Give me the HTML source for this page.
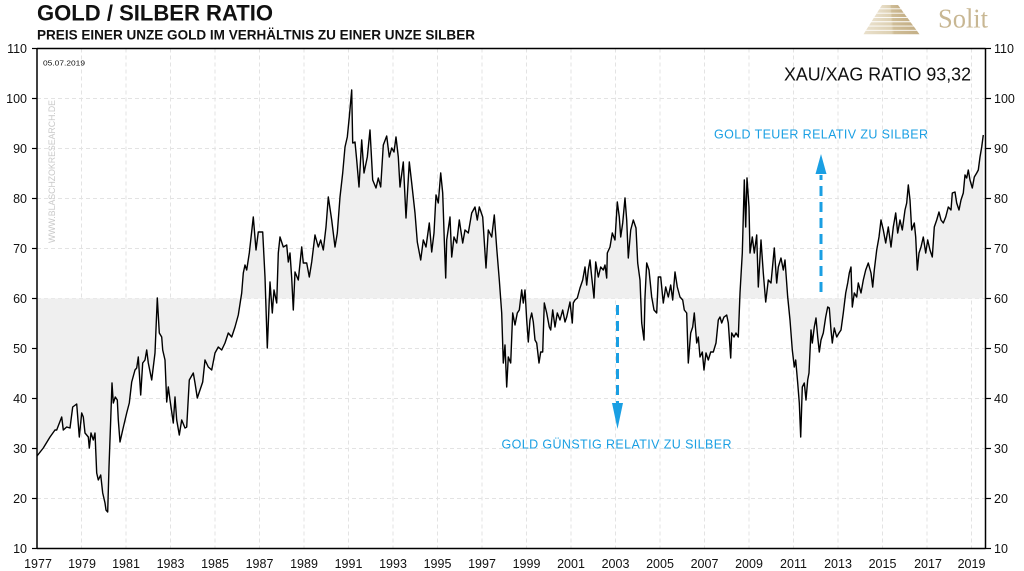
<!DOCTYPE html>
<html>
<head>
<meta charset="utf-8">
<style>
html,body{margin:0;padding:0;background:#fff;}
svg{display:block;}
text{font-family:"Liberation Sans",sans-serif;}
</style>
</head>
<body>
<svg width="1024" height="571" viewBox="0 0 1024 571" xmlns="http://www.w3.org/2000/svg">
<defs>
<linearGradient id="pg" x1="0" y1="0" x2="1" y2="0">
<stop offset="0" stop-color="#e9e0cc"/>
<stop offset="0.5" stop-color="#ddd0b2"/>
<stop offset="0.55" stop-color="#cfbd97"/>
<stop offset="1" stop-color="#c4af86"/>
</linearGradient>
</defs>
<rect x="0" y="0" width="1024" height="571" fill="#fff"/>

<!-- Title -->
<text x="37" y="20.5" font-size="22" font-weight="bold" fill="#111" textLength="236" lengthAdjust="spacingAndGlyphs">GOLD / SILBER RATIO</text>
<text x="37" y="39.5" font-size="14" font-weight="bold" fill="#111" textLength="438" lengthAdjust="spacingAndGlyphs">PREIS EINER UNZE GOLD IM VERHÄLTNIS ZU EINER UNZE SILBER</text>

<!-- Logo -->
<g fill="url(#pg)">
<polygon points="882,5 898,5 900.5,8.4 879.8,8.4"/>
<polygon points="879.3,9.3 901.2,9.3 903.6,12.7 877.1,12.7"/>
<polygon points="876.6,13.6 904.3,13.6 906.8,17 874.4,17"/>
<polygon points="873.8,17.9 907.5,17.9 910,21.3 871.7,21.3"/>
<polygon points="871.1,22.2 910.6,22.2 913.1,25.6 869,25.6"/>
<polygon points="868.4,26.5 913.8,26.5 916.3,29.9 866.2,29.9"/>
<polygon points="865.7,30.8 916.9,30.8 919.5,34.2 863.5,34.2"/>
</g>
<text x="938" y="27.7" font-size="27" fill="#c8b793" textLength="50" lengthAdjust="spacingAndGlyphs" style="font-family:'Liberation Serif',serif">Solit</text>

<!-- Grid -->
<g stroke="#e3e3e3" stroke-width="1" stroke-dasharray="4,3">
<line x1="37" y1="98.5" x2="985.5" y2="98.5"/>
<line x1="37" y1="148.5" x2="985.5" y2="148.5"/>
<line x1="37" y1="198.5" x2="985.5" y2="198.5"/>
<line x1="37" y1="248.5" x2="985.5" y2="248.5"/>
<line x1="37" y1="298.5" x2="985.5" y2="298.5"/>
<line x1="37" y1="348.5" x2="985.5" y2="348.5"/>
<line x1="37" y1="398.5" x2="985.5" y2="398.5"/>
<line x1="37" y1="448.5" x2="985.5" y2="448.5"/>
<line x1="37" y1="498.5" x2="985.5" y2="498.5"/>
<line x1="81.5" y1="48.5" x2="81.5" y2="548.5"/>
<line x1="126" y1="48.5" x2="126" y2="548.5"/>
<line x1="170.5" y1="48.5" x2="170.5" y2="548.5"/>
<line x1="215" y1="48.5" x2="215" y2="548.5"/>
<line x1="259.5" y1="48.5" x2="259.5" y2="548.5"/>
<line x1="304" y1="48.5" x2="304" y2="548.5"/>
<line x1="348.5" y1="48.5" x2="348.5" y2="548.5"/>
<line x1="393" y1="48.5" x2="393" y2="548.5"/>
<line x1="437.5" y1="48.5" x2="437.5" y2="548.5"/>
<line x1="482" y1="48.5" x2="482" y2="548.5"/>
<line x1="526.5" y1="48.5" x2="526.5" y2="548.5"/>
<line x1="571" y1="48.5" x2="571" y2="548.5"/>
<line x1="615.5" y1="48.5" x2="615.5" y2="548.5"/>
<line x1="660" y1="48.5" x2="660" y2="548.5"/>
<line x1="704.5" y1="48.5" x2="704.5" y2="548.5"/>
<line x1="749" y1="48.5" x2="749" y2="548.5"/>
<line x1="793.5" y1="48.5" x2="793.5" y2="548.5"/>
<line x1="838" y1="48.5" x2="838" y2="548.5"/>
<line x1="882.5" y1="48.5" x2="882.5" y2="548.5"/>
<line x1="927" y1="48.5" x2="927" y2="548.5"/>
<line x1="971.5" y1="48.5" x2="971.5" y2="548.5"/>
</g>

<!-- Watermark & date -->
<text transform="translate(55,243) rotate(-90)" font-size="9.5" fill="#c9c9c9" textLength="143" lengthAdjust="spacingAndGlyphs">WWW.BLASCHZOKRESEARCH.DE</text>
<text x="43" y="65.7" font-size="7.5" fill="#111" textLength="42" lengthAdjust="spacingAndGlyphs">05.07.2019</text>

<!-- Data -->
<g id="series">
<path fill="#efefef" stroke="none" d="M37,456 L43.3,448 50,437 55,430 56.7,430 61.7,417 63.3,430 66.7,427 70,428 72.7,407 76.7,404 79.3,437 81.7,413 83.3,417 85,433 88.3,437 89.3,448 91,433 93.3,440 95,433 96.7,473 98.3,480 100.7,475 102.7,493 105,503 106,510 107.7,512 109,467 110.7,420 112,383 113.3,403 115.3,397 117.3,400 118.3,420 120,442 122.7,430 126.7,413 129.3,403 131.7,382 135,370 136.7,368 138.3,357 140.7,395 142.7,363 145,360 146.7,350 148.3,363 151.7,380 155,353 157.3,298 159.3,333 161.7,337 162.7,350 165,360 166.7,402 168.3,387 170,400 173.3,423 175,397 176.7,420 179.3,435 181.7,420 185,428 186.7,427 189.3,380 193.3,373 195,383 197.3,398 200,390 202.7,382 205,360 208.3,367 211.7,370 215,353 218.3,347 221.7,350 225,343 228.3,333 231.7,337 235,327 238.3,315 241.7,293 243.3,273 245,265 246.7,270 249.3,253 253.3,217 256,250 258.3,232 262.7,232 265,277 267.3,348 270,282 272.3,313 274,290 276.7,303 278.3,253 280,237 283.3,247 286.7,245 288.3,262 290,253 291.7,278 293.3,310 295,272 298.3,280 301.7,247 303.3,263 306.7,263 309.3,277 311.7,262 315,235 318.3,247 320.7,240 323.3,250 326,227 328.3,197 331.7,220 335,247 337.3,233 340,197 342.7,173 345,147 347.3,137 349.3,117 351.7,90 352.7,143 355,142 356.7,160 359,187 361.7,140 364,173 367.3,157 370,130 372.7,180 376,188 378.3,178 380.7,187 383.3,145 386.7,136 389.3,157 391.7,148 394,152 396,137 398.3,157 400,187 403.3,162 406,218 409.3,162 411.7,183 415,213 417.3,242 420.7,260 423.3,240 426,247 429.3,223 431.7,252 434,233 436,195 438.3,203 440.7,173 442.7,193 444.3,240 445.7,278 446.7,240 450,217 451.7,257 454,237 456.7,243 459.3,220 462.7,243 465,230 468.3,233 471.7,213 475,207 477.3,220 479.3,207 482.7,217 486,268 488.3,230 491.7,237 494.3,215 496.7,248 499.3,280 501.7,313 503.3,363 505,345 506.7,387 508.3,357 510.7,363 512.7,313 515,325 517.3,313 519.3,310 521.7,290 523.3,303 525,290 526.7,320 528.3,342 530,320 531.7,313 533.3,322 535,340 536.7,343 539,363 540.7,352 542.7,352 544.3,303 546.7,313 549.3,327 550.7,330 552.7,310 555,327 557.3,313 560,320 562.7,310 565,322 566.7,317 570,302 572.3,323 573.3,303 575,300 577.3,298 580,288 582.7,280 585,267 586.7,285 588.3,270 590,260 591.7,277 594,298 595.7,262 598.3,277 600.7,267 603.3,270 605,265 606.7,278 607.3,253 610,247 612.3,233 615,240 617.3,202 619.3,217 620.7,237 622.7,223 625,198 626.7,220 628.3,258 630.7,230 633.3,220 636,228 637.7,263 640,280 641.7,323 644,340 645,297 646.7,263 649,270 651.7,297 654,310 656.7,313 658.3,277 660.7,277 663.3,303 665.7,287 668.3,297 670.7,285 672.7,300 675,272 677.3,287 680,297 682.7,300 684.3,310 686.7,313 688.3,363 690.7,333 692.7,327 694.3,313 696.7,343 698.3,337 700,357 702.3,352 704,370 706,353 708.3,360 710.7,352 713.3,352 716,343 718.3,320 720,317 721.7,323 724,317 726.7,315 728.3,323 730.7,358 731.7,333 734,337 736,333 738.3,337 740,293 742.3,253 744.3,180 745.7,227 747,178 749,207 750,253 752.3,237 754.3,253 756.7,235 758.3,287 761,240 763.3,273 765.7,302 768.3,280 771,283 774.3,248 776.7,283 778.3,267 781,258 783.3,270 785,260 787.7,297 790,320 792.3,350 794.3,367 795.7,360 797.7,383 799.3,403 800.7,437 802.3,387 804.3,383 806,400 807.7,380 809,373 811,330 812.3,343 814.3,327 816,318 817.7,337 819.3,352 821,340 823.3,333 825.7,317 827.7,307 829.3,308 831,330 832.3,343 834.3,328 836.7,337 839,333 841,330 843.3,313 845.7,293 847.7,283 849.3,273 851,267 852.3,307 854.3,293 856.7,297 858.3,283 861,293 863.3,280 865.7,270 868.3,263 871,273 872.7,287 874.3,270 876.7,250 879,237 881,220 883.3,230 885.7,243 888.3,227 891,247 893.3,227 895.7,213 897.7,233 900,220 902.3,230 905,210 906.7,203 908.3,185 910,200 911.7,230 914.3,223 915.7,237 917.3,270 919,253 921,247 923.3,237 925.7,253 927.7,240 930,250 932.3,257 934.3,227 936.7,220 939,212 941,220 943.3,223 945.7,217 948.3,207 951,210 952.3,193 955,192 956.7,203 959,210 961,200 963.3,193 965,175 966.7,178 968.3,170 970,180 972.3,188 974.3,177 976.7,173 978.3,170 980,157 981.7,147 983.3,135 L983.3,298.5 L37,298.5 Z"/>
<path fill="none" stroke="#000" stroke-width="1.4" stroke-linejoin="round" d="M37,456 L43.3,448 50,437 55,430 56.7,430 61.7,417 63.3,430 66.7,427 70,428 72.7,407 76.7,404 79.3,437 81.7,413 83.3,417 85,433 88.3,437 89.3,448 91,433 93.3,440 95,433 96.7,473 98.3,480 100.7,475 102.7,493 105,503 106,510 107.7,512 109,467 110.7,420 112,383 113.3,403 115.3,397 117.3,400 118.3,420 120,442 122.7,430 126.7,413 129.3,403 131.7,382 135,370 136.7,368 138.3,357 140.7,395 142.7,363 145,360 146.7,350 148.3,363 151.7,380 155,353 157.3,298 159.3,333 161.7,337 162.7,350 165,360 166.7,402 168.3,387 170,400 173.3,423 175,397 176.7,420 179.3,435 181.7,420 185,428 186.7,427 189.3,380 193.3,373 195,383 197.3,398 200,390 202.7,382 205,360 208.3,367 211.7,370 215,353 218.3,347 221.7,350 225,343 228.3,333 231.7,337 235,327 238.3,315 241.7,293 243.3,273 245,265 246.7,270 249.3,253 253.3,217 256,250 258.3,232 262.7,232 265,277 267.3,348 270,282 272.3,313 274,290 276.7,303 278.3,253 280,237 283.3,247 286.7,245 288.3,262 290,253 291.7,278 293.3,310 295,272 298.3,280 301.7,247 303.3,263 306.7,263 309.3,277 311.7,262 315,235 318.3,247 320.7,240 323.3,250 326,227 328.3,197 331.7,220 335,247 337.3,233 340,197 342.7,173 345,147 347.3,137 349.3,117 351.7,90 352.7,143 355,142 356.7,160 359,187 361.7,140 364,173 367.3,157 370,130 372.7,180 376,188 378.3,178 380.7,187 383.3,145 386.7,136 389.3,157 391.7,148 394,152 396,137 398.3,157 400,187 403.3,162 406,218 409.3,162 411.7,183 415,213 417.3,242 420.7,260 423.3,240 426,247 429.3,223 431.7,252 434,233 436,195 438.3,203 440.7,173 442.7,193 444.3,240 445.7,278 446.7,240 450,217 451.7,257 454,237 456.7,243 459.3,220 462.7,243 465,230 468.3,233 471.7,213 475,207 477.3,220 479.3,207 482.7,217 486,268 488.3,230 491.7,237 494.3,215 496.7,248 499.3,280 501.7,313 503.3,363 505,345 506.7,387 508.3,357 510.7,363 512.7,313 515,325 517.3,313 519.3,310 521.7,290 523.3,303 525,290 526.7,320 528.3,342 530,320 531.7,313 533.3,322 535,340 536.7,343 539,363 540.7,352 542.7,352 544.3,303 546.7,313 549.3,327 550.7,330 552.7,310 555,327 557.3,313 560,320 562.7,310 565,322 566.7,317 570,302 572.3,323 573.3,303 575,300 577.3,298 580,288 582.7,280 585,267 586.7,285 588.3,270 590,260 591.7,277 594,298 595.7,262 598.3,277 600.7,267 603.3,270 605,265 606.7,278 607.3,253 610,247 612.3,233 615,240 617.3,202 619.3,217 620.7,237 622.7,223 625,198 626.7,220 628.3,258 630.7,230 633.3,220 636,228 637.7,263 640,280 641.7,323 644,340 645,297 646.7,263 649,270 651.7,297 654,310 656.7,313 658.3,277 660.7,277 663.3,303 665.7,287 668.3,297 670.7,285 672.7,300 675,272 677.3,287 680,297 682.7,300 684.3,310 686.7,313 688.3,363 690.7,333 692.7,327 694.3,313 696.7,343 698.3,337 700,357 702.3,352 704,370 706,353 708.3,360 710.7,352 713.3,352 716,343 718.3,320 720,317 721.7,323 724,317 726.7,315 728.3,323 730.7,358 731.7,333 734,337 736,333 738.3,337 740,293 742.3,253 744.3,180 745.7,227 747,178 749,207 750,253 752.3,237 754.3,253 756.7,235 758.3,287 761,240 763.3,273 765.7,302 768.3,280 771,283 774.3,248 776.7,283 778.3,267 781,258 783.3,270 785,260 787.7,297 790,320 792.3,350 794.3,367 795.7,360 797.7,383 799.3,403 800.7,437 802.3,387 804.3,383 806,400 807.7,380 809,373 811,330 812.3,343 814.3,327 816,318 817.7,337 819.3,352 821,340 823.3,333 825.7,317 827.7,307 829.3,308 831,330 832.3,343 834.3,328 836.7,337 839,333 841,330 843.3,313 845.7,293 847.7,283 849.3,273 851,267 852.3,307 854.3,293 856.7,297 858.3,283 861,293 863.3,280 865.7,270 868.3,263 871,273 872.7,287 874.3,270 876.7,250 879,237 881,220 883.3,230 885.7,243 888.3,227 891,247 893.3,227 895.7,213 897.7,233 900,220 902.3,230 905,210 906.7,203 908.3,185 910,200 911.7,230 914.3,223 915.7,237 917.3,270 919,253 921,247 923.3,237 925.7,253 927.7,240 930,250 932.3,257 934.3,227 936.7,220 939,212 941,220 943.3,223 945.7,217 948.3,207 951,210 952.3,193 955,192 956.7,203 959,210 961,200 963.3,193 965,175 966.7,178 968.3,170 970,180 972.3,188 974.3,177 976.7,173 978.3,170 980,157 981.7,147 983.3,135"/>
</g>

<!-- Annotations -->
<text x="784" y="80.5" font-size="18.5" fill="#111" textLength="187" lengthAdjust="spacingAndGlyphs">XAU/XAG RATIO 93,32</text>
<text x="714" y="138.3" font-size="12.5" fill="#1a9fe3" textLength="214" lengthAdjust="spacing">GOLD TEUER RELATIV ZU SILBER</text>
<text x="501.5" y="448.3" font-size="12.5" fill="#1a9fe3" textLength="230" lengthAdjust="spacing">GOLD GÜNSTIG RELATIV ZU SILBER</text>
<line x1="617.5" y1="305" x2="617.5" y2="404" stroke="#1a9fe3" stroke-width="3" stroke-dasharray="10,6"/>
<polygon points="612,403 623,403 617.5,429" fill="#1a9fe3"/>
<line x1="821" y1="292" x2="821" y2="175" stroke="#1a9fe3" stroke-width="3" stroke-dasharray="10,6"/>
<polygon points="815.5,174 826.5,174 821,154" fill="#1a9fe3"/>

<!-- Axes -->
<g stroke="#000" stroke-width="1.5" fill="none">
<line x1="37" y1="48.5" x2="985.5" y2="48.5"/>
<line x1="37" y1="548.5" x2="985.5" y2="548.5"/>
<line x1="37" y1="48" x2="37" y2="549"/>
<line x1="985.5" y1="48" x2="985.5" y2="549"/>
</g>
<g stroke="#000" stroke-width="1.2">
<line x1="32" y1="48.5" x2="37" y2="48.5"/><line x1="32" y1="98.5" x2="37" y2="98.5"/><line x1="32" y1="148.5" x2="37" y2="148.5"/><line x1="32" y1="198.5" x2="37" y2="198.5"/><line x1="32" y1="248.5" x2="37" y2="248.5"/><line x1="32" y1="298.5" x2="37" y2="298.5"/><line x1="32" y1="348.5" x2="37" y2="348.5"/><line x1="32" y1="398.5" x2="37" y2="398.5"/><line x1="32" y1="448.5" x2="37" y2="448.5"/><line x1="32" y1="498.5" x2="37" y2="498.5"/><line x1="32" y1="548.5" x2="37" y2="548.5"/>
<line x1="985.5" y1="48.5" x2="991" y2="48.5"/><line x1="985.5" y1="98.5" x2="991" y2="98.5"/><line x1="985.5" y1="148.5" x2="991" y2="148.5"/><line x1="985.5" y1="198.5" x2="991" y2="198.5"/><line x1="985.5" y1="248.5" x2="991" y2="248.5"/><line x1="985.5" y1="298.5" x2="991" y2="298.5"/><line x1="985.5" y1="348.5" x2="991" y2="348.5"/><line x1="985.5" y1="398.5" x2="991" y2="398.5"/><line x1="985.5" y1="448.5" x2="991" y2="448.5"/><line x1="985.5" y1="498.5" x2="991" y2="498.5"/><line x1="985.5" y1="548.5" x2="991" y2="548.5"/>
</g>

<!-- Left labels -->
<g font-size="12.5" fill="#111" text-anchor="end">
<text x="27" y="53">110</text><text x="27" y="103">100</text><text x="27" y="153">90</text><text x="27" y="203">80</text><text x="27" y="253">70</text><text x="27" y="303">60</text><text x="27" y="353">50</text><text x="27" y="403">40</text><text x="27" y="453">30</text><text x="27" y="503">20</text><text x="27" y="553">10</text>
</g>
<!-- Right labels -->
<g font-size="12.5" fill="#111" text-anchor="start">
<text x="994" y="53">110</text><text x="994" y="103">100</text><text x="994" y="153">90</text><text x="994" y="203">80</text><text x="994" y="253">70</text><text x="994" y="303">60</text><text x="994" y="353">50</text><text x="994" y="403">40</text><text x="994" y="453">30</text><text x="994" y="503">20</text><text x="994" y="553">10</text>
</g>
<!-- Bottom labels -->
<g font-size="12.5" fill="#111" text-anchor="middle">
<text x="38" y="568">1977</text><text x="82" y="568">1979</text><text x="126" y="568">1981</text><text x="170.5" y="568">1983</text><text x="215" y="568">1985</text><text x="259.5" y="568">1987</text><text x="304" y="568">1989</text><text x="348.5" y="568">1991</text><text x="393" y="568">1993</text><text x="437.5" y="568">1995</text><text x="482" y="568">1997</text><text x="526.5" y="568">1999</text><text x="571" y="568">2001</text><text x="615.5" y="568">2003</text><text x="660" y="568">2005</text><text x="704.5" y="568">2007</text><text x="749" y="568">2009</text><text x="793.5" y="568">2011</text><text x="838" y="568">2013</text><text x="882.5" y="568">2015</text><text x="928" y="568">2017</text><text x="971.5" y="568">2019</text>
</g>
</svg>
</body>
</html>
